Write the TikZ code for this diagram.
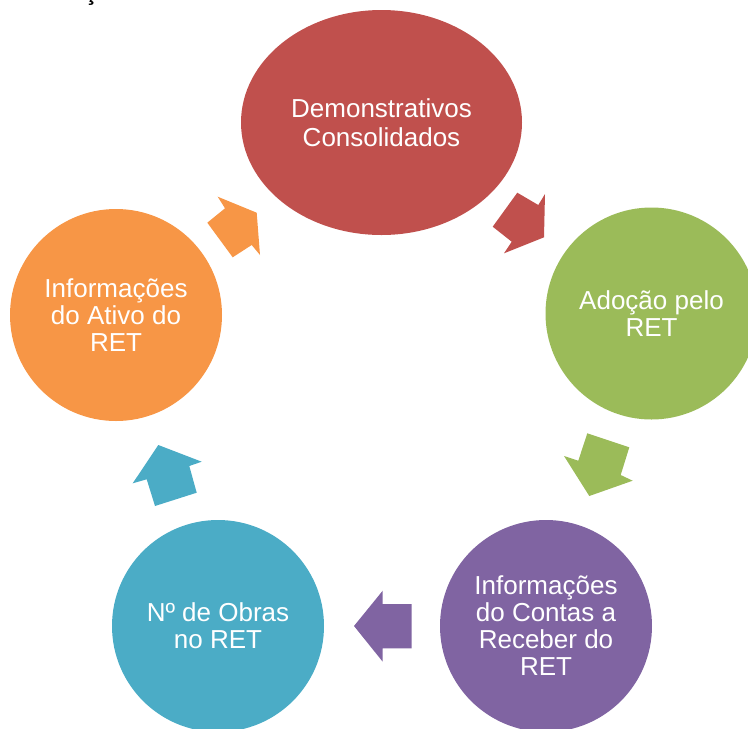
\documentclass[tikz,border=0pt]{standalone}
\usepackage{fontspec}
\setmainfont{Liberation Sans}
\usetikzlibrary{shapes.geometric}
\definecolor{cycred}{HTML}{C0504D}
\definecolor{cycgreen}{HTML}{9BBB59}
\definecolor{cycpurple}{HTML}{8064A2}
\definecolor{cycteal}{HTML}{4BACC6}
\definecolor{cycorange}{HTML}{F79646}
\begin{document}
\begin{tikzpicture}[x=1pt,y=-1pt,
  stage/.style={fill=#1, draw=none, inner sep=0pt, text=white, align=center,
    font=\fontsize{26}{27}\selectfont},
  disc/.style={circle, minimum size=212pt},
  blockarrow/.style={fill=#1, draw=none}]
\useasboundingbox (0,0) rectangle (748,729);
\clip (0,0) rectangle (748,729);

% cut-off caption line above the cycle
\node[anchor=base, inner sep=0pt, font=\bfseries\fontsize{24}{24}\selectfont] (caption) at (91,0.5) {ç};

% stages of the cycle
\node[stage=cycred, ellipse, minimum width=281pt, minimum height=225pt,
      font=\fontsize{26}{29}\selectfont] (dem) at (381.5,122.5) {Demonstrativos\\Consolidados};
\node[stage=cycgreen, disc] (ado) at (651.5,313.5) {Adoção pelo\\RET};
\node[stage=cycpurple, disc] (rec) at (546,626) {Informações\\do Contas a\\Receber do\\RET};
\node[stage=cycteal, disc] (obr) at (218,626) {Nº de Obras\\no RET};
\node[stage=cycorange, disc] (ati) at (116,315) {Informações\\do Ativo do\\RET};

% block arrows between stages
\fill[blockarrow=cycred] (517.3,192.7) -- (538.3,205) -- (545,194) -- (544,237.3)
  -- (504,253.3) -- (511.7,241.7) -- (492.7,226.7) -- cycle;
\fill[blockarrow=cycgreen] (587.3,433.3) -- (629.3,447.3) -- (620.7,475) -- (632.7,480.7)
  -- (589.3,496) -- (564,456) -- (578.3,460.7) -- cycle;
\fill[blockarrow=cycpurple] (354,626) -- (382.7,590.7) -- (382.7,604) -- (411.7,604)
  -- (411.7,648.3) -- (382.7,648.3) -- (382.7,661.7) -- cycle;
\fill[blockarrow=cycteal] (158.3,445) -- (201.7,461.7) -- (189.3,466) -- (196.7,492.7)
  -- (155,506) -- (146.7,479.3) -- (132.7,483.3) -- cycle;
\fill[blockarrow=cycorange] (256.7,212.7) -- (217.7,196.7) -- (225,208.3) -- (207.3,222.7)
  -- (232.7,257.3) -- (251.7,245) -- (260,255) -- cycle;
\end{tikzpicture}
\end{document}
